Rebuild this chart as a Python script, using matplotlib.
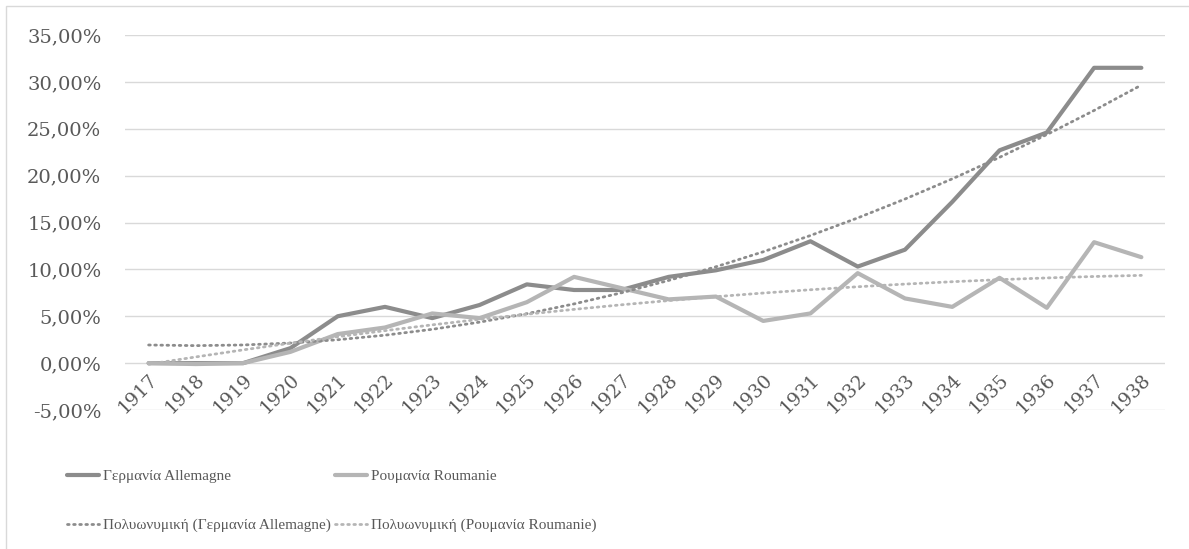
import numpy as np
import matplotlib
matplotlib.use('Agg')
from matplotlib import pyplot as plt
from matplotlib import font_manager
from matplotlib.patches import Rectangle
from matplotlib.ticker import FuncFormatter

years = list(range(1917, 1939))
germany = [0.0, 0.0, 0.0, 1.6, 5.0, 6.0, 4.8, 6.2, 8.4, 7.8, 7.8, 9.2, 9.9,
           11.0, 13.0, 10.3, 12.1, 17.2, 22.7, 24.6, 31.5, 31.5]
romania = [0.0, -0.1, 0.0, 1.2, 3.1, 3.8, 5.3, 4.8, 6.5, 9.2, 8.0, 6.8, 7.1,
           4.5, 5.3, 9.6, 6.9, 6.0, 9.1, 5.9, 12.9, 11.3]
labels = ['Γερμανία Allemagne', 'Ρουμανία Roumanie',
          'Πολυωνυμική (Γερμανία Allemagne)', 'Πολυωνυμική (Ρουμανία Roumanie)']

plt.rcParams['font.family'] = ['DejaVu Serif']
TXT = '#595959'
C_DE = '#8c8c8c'
C_RO = '#b5b5b5'

fig = plt.figure(figsize=(11.89, 5.49), dpi=100)
W, H = 1189, 549
ax = fig.add_axes([125 / W, 1 - 410 / H, (1165 - 125) / W, (410 - 35) / H])

# chart frame
fig.patches.append(Rectangle((6 / W, -0.1), 1.2, 1.1 - 6 / H, transform=fig.transFigure,
                             fill=False, edgecolor='#d9d9d9', linewidth=1))

x = np.arange(len(years))
# polynomial trendlines (order 2), like excel
t_de = np.polyval(np.polyfit(x, germany, 2), x)
t_ro = np.polyval(np.polyfit(x, romania, 2), x)

l1, = ax.plot(x, germany, color=C_DE, linewidth=3, solid_capstyle='round', zorder=3)
l2, = ax.plot(x, romania, color=C_RO, linewidth=3, solid_capstyle='round', zorder=3)
l3, = ax.plot(x, t_de, color=C_DE, linewidth=2, linestyle=(0, (0.6, 1.6)),
              dash_capstyle='round', zorder=4)
l4, = ax.plot(x, t_ro, color=C_RO, linewidth=2, linestyle=(0, (0.6, 1.6)),
              dash_capstyle='round', zorder=4)

ax.set_xlim(-0.5, len(years) - 0.5)
ax.set_ylim(-5, 35)
ax.set_yticks(np.arange(-5, 36, 5))
ax.yaxis.set_major_formatter(FuncFormatter(lambda v, p: ('%.2f%%' % v).replace('.', ',')))
ax.grid(axis='y', color='#d9d9d9', linewidth=1)
ax.set_axisbelow(True)
for s in ax.spines.values():
    s.set_visible(False)
ax.spines['bottom'].set_position(('data', 0))
ax.tick_params(axis='both', length=0, labelcolor=TXT)
ax.tick_params(axis='y', pad=17, labelsize=14)
ax.set_xticks(x)
ax.set_xticklabels([str(y) for y in years], rotation=45, ha='right',
                   rotation_mode='anchor')
ax.tick_params(axis='x', pad=5, labelsize=13.5)

# legend text is a narrow serif in the original
leg_font = font_manager.FontProperties(family='Liberation Serif', size=11)
leg = fig.legend([l1, l3, l2, l4], [labels[0], labels[2], labels[1], labels[3]],
                 ncol=2, loc='upper left', bbox_to_anchor=(53 / W, 1 - 456 / H),
                 frameon=False, prop=leg_font, handlelength=2.1, handletextpad=0.25,
                 columnspacing=0.3, labelspacing=2.3, labelcolor=TXT)

fig.savefig('out.png', dpi=100)
